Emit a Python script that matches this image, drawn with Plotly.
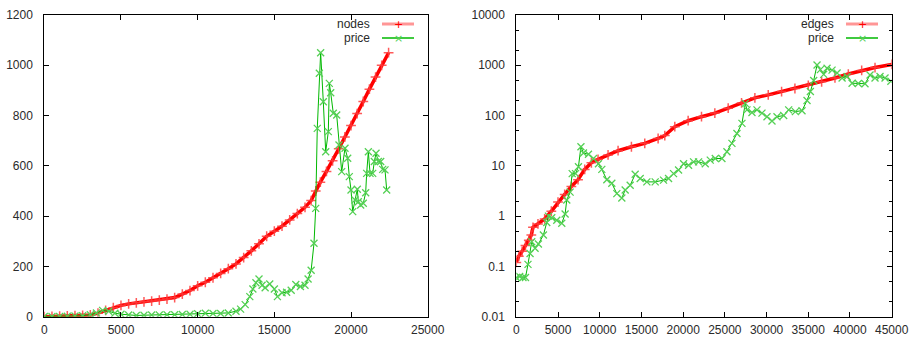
import plotly.graph_objects as go

# ---------------- Left chart data ----------------
nodes_x = [0, 500, 1000, 1500, 2000, 2500, 3000, 3500, 4000, 4500, 5000, 5500, 6000, 6500,
           7000, 7500, 8000, 8500, 9000, 9500, 10000, 10500, 11000, 11500, 12000, 12500,
           13000, 13500, 14000, 14500, 15000, 15500, 16000, 16500, 17000, 17400, 17700,
           18000, 18400, 18800, 19200, 19600, 20000, 20400, 20800, 21200, 21600, 22000, 22450]
nodes_y = [0, 1, 2, 3, 4, 5, 7, 14, 25, 36, 45, 51, 55, 59, 62, 66, 70, 76, 90, 104, 123,
           137, 155, 172, 191, 210, 235, 262, 290, 320, 340, 360, 385, 410, 435, 462, 500,
           535, 578, 620, 668, 715, 760, 808, 856, 905, 953, 1000, 1050]

price1_x = [0, 500, 1000, 1500, 2000, 2500, 3000, 3400, 3800, 4200, 4600, 5000, 5500, 6000,
            6500, 7000, 7500, 8000, 8500, 9000, 9500, 10000, 10500, 11000, 11500, 12000,
            12500, 12800, 13100, 13400, 13600, 13800, 14000, 14200, 14400, 14700, 15000,
            15200, 15500, 15800, 16100, 16400, 16700, 17000, 17200, 17400, 17586, 17697,
            17800, 17933, 18020, 18193, 18349, 18520, 18585, 18675, 18845, 19066, 19216,
            19392, 19607, 19783, 19888, 19999, 20110, 20260, 20410, 20476, 20630, 20800,
            20955, 21020, 21130, 21240, 21413, 21520, 21630, 21780, 21935, 22066, 22216, 22326]
price1_y = [1, 1, 1, 2, 3, 4, 8, 15, 25, 22, 14, 10, 7, 5, 6, 7, 7, 8, 8, 9, 10, 12, 14, 13,
            13, 15, 22, 30, 48, 80, 110, 135, 150, 125, 115, 130, 110, 80, 95, 97, 105, 128,
            120, 125, 150, 185, 292, 431, 749, 968, 1050, 855, 656, 736, 928, 891, 809, 802,
            683, 577, 670, 630, 557, 504, 418, 464, 507, 457, 444, 451, 493, 570, 656, 570,
            570, 617, 650, 617, 617, 586, 584, 504]

# ---------------- Right chart data ----------------
edges_x = [0, 300, 700, 1100, 1500, 1800, 2000, 2600, 3400, 4200, 5000, 5800, 6600, 7400,
           8200, 9000, 9800, 11000, 12200, 13800, 15400, 17000, 17800, 19000, 20600, 22200,
           23800, 25400, 27000, 28600, 30200, 31800, 33400, 35000, 36600, 38200, 39800,
           41400, 43000, 45000]
edges_y = [0.12, 0.16, 0.2, 0.26, 0.33, 0.42, 0.6, 0.7, 0.88, 1.25, 1.9, 2.7, 3.9, 5.3,
           8.5, 11.5, 13.5, 16.5, 20, 24, 28, 35, 40, 60, 79, 95, 112, 140, 178, 225, 258,
           300, 345, 400, 470, 560, 670, 790, 900, 1040]

price2_x = [0, 400, 800, 1100, 1400, 1650, 1850, 2250, 2650, 3250, 3650, 3850, 4250, 4850,
            5450, 5850, 6050, 6450, 6700, 7100, 7450, 7750, 8050, 8650, 9250, 9850, 10250,
            10850, 11450, 12050, 12650, 13050, 13650, 14250, 14850, 15650, 16650, 17650,
            18250, 18850, 19450, 20050, 20650, 21250, 21850, 22650, 23250, 23850, 24650,
            25250, 25850, 26450, 27050, 27450, 27650, 28250, 28850, 29450, 30050, 30650,
            31250, 32050, 32650, 33450, 34250, 34850, 35250, 35650, 36050, 36450, 36850,
            37250, 37850, 38450, 39050, 39650, 40250, 41000, 41800, 42400, 43000, 43600,
            44200, 44900]
price2_y = [0.06, 0.063, 0.06, 0.06, 0.11, 0.18, 0.31, 0.23, 0.28, 0.42, 0.75, 1.0, 0.93,
            0.83, 0.72, 1.1, 2.1, 3.0, 7.0, 7.0, 9.6, 24, 18, 17, 14, 11, 8.5, 5.3, 4.5, 2.8,
            2.3, 3.3, 4.1, 6.8, 5.6, 4.8, 4.8, 5.2, 5.6, 7.0, 8.3, 11, 10.3, 12, 12, 11, 13,
            14, 14, 19, 28, 44, 70, 175, 130, 115, 130, 112, 95, 78, 95, 100, 130, 120, 125,
            200, 300, 500, 1010, 820, 660, 870, 800, 700, 560, 600, 440, 435, 430, 640, 560,
            600, 560, 480]

left_xticks = [0, 5000, 10000, 15000, 20000, 25000]
left_yticks = [0, 200, 400, 600, 800, 1000, 1200]
right_xticks = [0, 5000, 10000, 15000, 20000, 25000, 30000, 35000, 40000, 45000]
right_yticks = [0.01, 0.1, 1, 10, 100, 1000, 10000]
right_yticktext = ["0.01", "0.1", "1", "10", "100", "1000", "10000"]
right_yminor = [m * 10 ** e for e in range(-2, 4) for m in (2, 5)]

RED = "#ff0000"
GREEN = "#00b800"
GREEN_MK = "#55d055"
W, H = 911, 338

fig = go.Figure()

red_style = dict(mode="lines+markers", line=dict(color=RED, width=3.5),
                 marker=dict(symbol="cross-thin", size=7,
                             line=dict(color="rgba(255,60,60,0.85)", width=1.5)),
                 showlegend=False)
green_style = dict(mode="lines+markers", line=dict(color=GREEN, width=1),
                   marker=dict(symbol="x-thin", size=7, line=dict(color=GREEN_MK, width=1.3)),
                   showlegend=False)

fig.add_trace(go.Scatter(x=nodes_x, y=nodes_y, name="nodes", xaxis="x", yaxis="y", **red_style))
fig.add_trace(go.Scatter(x=price1_x, y=price1_y, name="price", xaxis="x", yaxis="y", **green_style))
fig.add_trace(go.Scatter(x=edges_x, y=edges_y, name="edges", xaxis="x2", yaxis="y2", **red_style))
fig.add_trace(go.Scatter(x=price2_x, y=price2_y, name="price", xaxis="x2", yaxis="y2", **green_style))

font = dict(family="Liberation Sans, Arial, sans-serif", size=12, color="#2a2a2a")
ax_common = dict(showgrid=False, zeroline=False, showline=True, linecolor="black",
                 linewidth=1, mirror="ticks", ticks="inside", ticklen=5, tickcolor="black",
                 tickfont=font, automargin=False)

ydom = [(H - 316.7) / H, (H - 15) / H]
fig.update_layout(
    width=W, height=H, margin=dict(l=0, r=0, t=0, b=0),
    paper_bgcolor="white", plot_bgcolor="white", showlegend=False,
    xaxis=dict(domain=[44.3 / W, 427.7 / W], range=[0, 25000], tickvals=left_xticks,
               ticktext=[str(v) for v in left_xticks],
               anchor="y", ticklabelstandoff=2, **ax_common),
    yaxis=dict(domain=ydom, range=[0, 1200], tickvals=left_yticks,
               ticktext=[str(v) for v in left_yticks], anchor="x",
               ticklabelstandoff=8, **ax_common),
    xaxis2=dict(domain=[516.3 / W, 891.7 / W], range=[0, 45000], tickvals=right_xticks,
                ticktext=[str(v) for v in right_xticks],
                anchor="y2", ticklabelstandoff=2, **ax_common),
    yaxis2=dict(domain=ydom, type="log", range=[-2, 4], tickvals=right_yticks,
                ticktext=right_yticktext, anchor="x2", ticklabelstandoff=8,
                minor=dict(tickvals=right_yminor, ticks="inside", ticklen=3,
                           tickcolor="black"),
                **ax_common),
)

# gnuplot-style key: label on the left, sample line with point on the right
def add_key(label_right_px, line_x0_px, line_x1_px, entries):
    for (label, color, lw, sym, symcolor), ypx in zip(entries, (24, 38)):
        yp = 1 - ypx / H
        fig.add_annotation(x=label_right_px / W, y=yp, xref="paper", yref="paper",
                           text=label, showarrow=False, xanchor="right", yanchor="middle",
                           font=font)
        fig.add_shape(type="line", xref="paper", yref="paper", x0=line_x0_px / W,
                      x1=line_x1_px / W, y0=yp, y1=yp, line=dict(color=color, width=lw))
        fig.add_annotation(x=(line_x0_px + line_x1_px) / 2 / W, y=yp, xref="paper",
                           yref="paper", text=sym, showarrow=False, xanchor="center",
                           yanchor="middle",
                           font=dict(family="DejaVu Sans", size=11, color=symcolor))

add_key(372, 382, 414, [("nodes", "rgba(255,80,80,0.6)", 3, "+", RED),
                        ("price", GREEN, 1.5, "×", GREEN_MK)])
add_key(836, 846, 878, [("edges", "rgba(255,80,80,0.6)", 3, "+", RED),
                        ("price", GREEN, 1.5, "×", GREEN_MK)])

fig.write_html("out.html")
